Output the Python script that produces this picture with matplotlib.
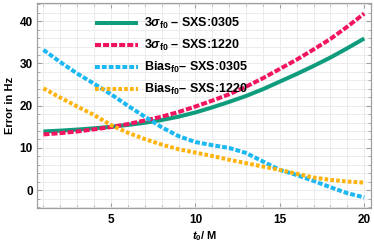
import numpy as np
import matplotlib.pyplot as plt
from matplotlib.ticker import MultipleLocator

# -- Fonts ----------------------------------------------------------
plt.rcParams.update(
    {
        "font.family": "Liberation Sans",
        "font.weight": "bold",
        "mathtext.fontset": "custom",
        "mathtext.rm": "Liberation Sans:bold",
        "mathtext.it": "Liberation Sans:italic:bold",
        "mathtext.bf": "Liberation Sans:bold",
    }
)

# -- Colours --------------------------------------------------------
GREEN = "#0E9C7D"
PINK = "#F2145F"
BLUE = "#1BB8F2"
ORANGE = "#FFB30F"
FRAME = "#A0A0A0"
GRID = "#ECECEC"

# -- Data -----------------------------------------------------------
t0 = [1, 2, 3, 4, 5, 6, 7, 8, 9, 10, 11, 12, 13, 14, 15, 16, 17, 18, 19, 20]

sigma_0305 = [13.9, 14.1, 14.35, 14.65, 15.0, 15.45, 15.95, 16.6, 17.4, 18.4,
              19.6, 20.9, 22.3, 23.9, 25.7, 27.5, 29.4, 31.4, 33.6, 35.9]
sigma_1220 = [13.2, 13.5, 13.9, 14.4, 14.95, 15.65, 16.5, 17.4, 18.5, 19.8,
              21.2, 22.7, 24.5, 26.5, 28.7, 30.9, 33.3, 35.8, 38.7, 41.8]
bias_0305 = [33.2, 30.3, 27.6, 25.2, 22.7, 20.0, 17.4, 14.9, 12.8, 11.4,
             10.65, 10.0, 8.8, 6.8, 4.8, 3.6, 2.2, 0.7, -0.7, -1.7]
bias_1220 = [24.1, 21.9, 19.8, 17.8, 15.4, 13.6, 12.1, 10.8, 9.7, 8.9,
             8.1, 7.2, 6.4, 5.6, 4.8, 3.9, 3.0, 2.45, 2.05, 1.8]

labels = [
    r"$3\sigma_{\rm f0}$ – SXS:0305",
    r"$3\sigma_{\rm f0}$ – SXS:1220",
    r"Bias$_{\rm f0}$– SXS:0305",
    r"Bias$_{\rm f0}$– SXS:1220",
]

fig = plt.figure(figsize=(3.74, 2.47), dpi=100)
ax = fig.add_axes([0.099, 0.158, 0.893, 0.830])

ax.set_xlim(0.62, 20.4)
ax.set_ylim(-4.2, 44.3)

ax.xaxis.set_major_locator(MultipleLocator(5))
ax.xaxis.set_minor_locator(MultipleLocator(1))
ax.yaxis.set_major_locator(MultipleLocator(10))
ax.yaxis.set_minor_locator(MultipleLocator(2))

ax.grid(True, which="both", color=GRID, lw=0.7, zorder=0)
ax.set_axisbelow(True)

lw = 2.9
ax.plot(t0, sigma_0305, color=GREEN, lw=lw, solid_capstyle="butt", label=labels[0])
ax.plot(t0, sigma_1220, color=PINK, lw=lw, dashes=(1.5, 0.5), dash_capstyle="butt",
        label=labels[1])
ax.plot(t0, bias_0305, color=BLUE, lw=lw, dashes=(1.2, 0.5), dash_capstyle="butt",
        label=labels[2])
ax.plot(t0, bias_1220, color=ORANGE, lw=lw, dashes=(0.9, 0.55), dash_capstyle="butt",
        label=labels[3])

for s in ax.spines.values():
    s.set_color(FRAME)
    s.set_linewidth(0.9)

ax.tick_params(which="both", direction="in", top=True, right=True, color=FRAME,
               labelsize=8.5)
ax.tick_params(which="major", length=3.6, width=0.8)
ax.tick_params(which="minor", length=2.0, width=0.6)
ax.tick_params(axis="x", pad=4.5)
ax.tick_params(axis="y", pad=3)
for lab in ax.get_xticklabels() + ax.get_yticklabels():
    lab.set_fontweight("bold")

ax.set_xlabel(r"$t_0$/ M", fontsize=8, fontweight="bold", labelpad=2)
ax.set_ylabel("Error in Hz", fontsize=8, fontweight="bold", labelpad=3)

ax.legend(loc="upper left", bbox_to_anchor=(0.174, 0.935), frameon=False,
          fontsize=9, handlelength=3.4, handletextpad=0.5, labelspacing=0.55,
          borderpad=0, borderaxespad=0)

fig.savefig("out.png", dpi=100)
